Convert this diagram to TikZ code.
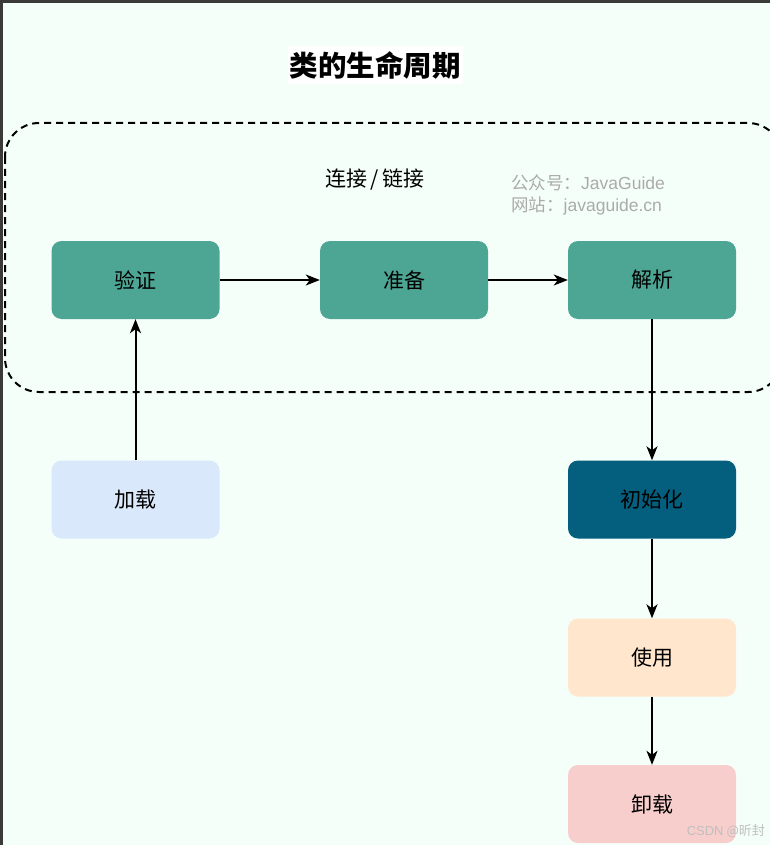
\documentclass[tikz,border=0pt]{standalone}
\usepackage{fontspec}
\setmainfont{Noto Sans CJK SC}
\newfontfamily\cjk{Noto Sans CJK SC}
\newfontfamily\latinsans{Liberation Sans}
\usetikzlibrary{arrows.meta}
\definecolor{bgmint}{HTML}{F5FFF9}
\definecolor{tealbox}{HTML}{4DA594}
\definecolor{bluebox}{HTML}{DAE8FC}
\definecolor{darkbox}{HTML}{035F7D}
\definecolor{orangebox}{HTML}{FFE6CC}
\definecolor{redbox}{HTML}{F8CECC}
\definecolor{frame}{HTML}{3A3A3A}
\tikzset{
  stagebox/.style={rectangle, rounded corners=10pt, minimum width=168pt, minimum height=78pt, inner sep=0pt, font=\cjk\fontsize{21}{24}\selectfont, text=black},
  conn/.style={line width=2pt, -{Stealth[length=14pt,width=11pt,inset=4pt]}},
}
\begin{document}
\begin{tikzpicture}[x=1pt,y=-1pt]
\useasboundingbox (0,0) rectangle (770,845);
\fill[bgmint] (0,0) rectangle (770,845);
\fill[frame] (0,0) rectangle (770,3);
\fill[frame] (0,0) rectangle (3,845);
% title
\node[fill=white, inner xsep=2pt, inner ysep=5pt, font=\cjk\bfseries\fontsize{28.5}{31}\selectfont] (title) at (375,65) {类的生命周期};
% dashed group
\draw[line width=2pt, dash pattern=on 7pt off 5pt, rounded corners=34pt] (5,123) rectangle (782,392);
\node[font=\cjk\fontsize{21}{24}\selectfont] (grp) at (375,180) {连接\hspace{3pt}/\hspace{3pt}链接};
\node[font=\cjk\fontsize{17.5}{21}\selectfont, text=black!33, align=left, anchor=west, inner sep=0pt] (wm) at (511,195) {公众号：{\latinsans JavaGuide}\\[1pt]网站：{\latinsans javaguide.cn}};
% nodes
\node[stagebox, fill=tealbox] (yz) at (135.5,280) {验证};
\node[stagebox, fill=tealbox] (zb) at (404,280) {准备};
\node[stagebox, fill=tealbox] (jx) at (652,280) {解析};
\node[stagebox, fill=bluebox] (jz) at (135.5,499.5) {加载};
\node[stagebox, fill=darkbox] (csh) at (652,499.5) {初始化};
\node[stagebox, fill=orangebox] (sy) at (652,657.5) {使用};
\node[stagebox, fill=redbox] (xz) at (652,804) {卸载};
% connectors
\draw[conn] (yz) -- (zb);
\draw[conn] (zb) -- (jx);
\draw[conn] (jz) -- (yz);
\draw[conn] (jx) -- (csh);
\draw[conn] (csh) -- (sy);
\draw[conn] (sy) -- (xz);
% csdn watermark
\node[font=\cjk\fontsize{13}{15}\selectfont, text=black!25, anchor=east, inner sep=0pt] (csdn) at (765,831) {{\latinsans CSDN} @昕封};
\end{tikzpicture}
\end{document}
